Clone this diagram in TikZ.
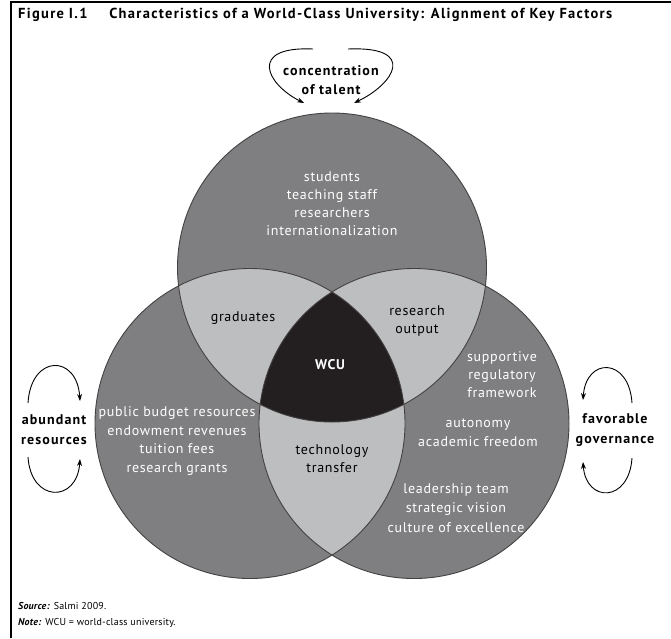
\documentclass[tikz,border=0pt]{standalone}
\usepackage{fontspec}
\setmainfont{PT Sans}
\newfontfamily\circfont[LetterSpace=5]{PT Sans}
\newfontfamily\lblfont[LetterSpace=8]{PT Sans}
\newfontfamily\titlefont[LetterSpace=9]{PT Sans}
\newfontfamily\notefont[LetterSpace=2]{PT Sans}
\usetikzlibrary{arrows.meta}
\definecolor{midgray}{HTML}{7F7F81}
\definecolor{lensgray}{HTML}{BDBEC0}
\definecolor{coreblack}{HTML}{231F20}
\tikzset{
  ctxt/.style={text=white, align=center, inner sep=0pt, font=\circfont\fontsize{14}{18}\selectfont},
  lenstxt/.style={text=black, align=center, inner sep=0pt, font=\circfont\fontsize{14}{18}\selectfont},
  lbl/.style={text=black, align=center, inner sep=0pt, font=\lblfont\fontsize{14}{18.5}\selectfont\bfseries},
  arr/.style={draw=black, line width=0.9pt, -{Stealth[length=7pt,width=5pt]}},
  outline/.style={draw=coreblack!85, line width=0.9pt},
  notetxt/.style={anchor=west, inner sep=0pt, font=\notefont\fontsize{10}{12}\selectfont},
}
\begin{document}
\begin{tikzpicture}[x=1pt,y=-1pt]
\useasboundingbox (0,0) rectangle (671,638);
\fill[white] (0,0) rectangle (671,638);
% frame
\draw[line width=2pt] (10,2) -- (671,2);
\draw[line width=1.5pt] (11,1) -- (11,638);
% title
\node[anchor=west, inner sep=0pt, font=\titlefont\fontsize{14.5}{16}\selectfont\bfseries] (title) at (18,15)
  {Figure I.1\hspace{1.5em}Characteristics of a World-Class University: Alignment of Key Factors};
% circles
\def\Ctop{(332,267.5) circle (154.5)}
\def\Cleft{(250,423.5) circle (155)}
\def\Cright{(414,423.5) circle (155)}
\fill[midgray] \Ctop;
\fill[midgray] \Cleft;
\fill[midgray] \Cright;
\begin{scope}\clip \Ctop; \fill[lensgray] \Cleft; \fill[lensgray] \Cright; \end{scope}
\begin{scope}\clip \Cleft; \fill[lensgray] \Cright; \end{scope}
\begin{scope}\clip \Ctop; \clip \Cleft; \fill[coreblack] \Cright; \end{scope}
\draw[outline] \Ctop;
\draw[outline] \Cleft;
\draw[outline] \Cright;
% circle texts
\node[ctxt] (talent) at (332,204) {students\\teaching staff\\researchers\\internationalization};
\node[ctxt, font=\circfont\fontsize{14}{18.7}\selectfont] (resources) at (177,441) {public budget resources\\endowment revenues\\tuition fees\\research grants};
\node[ctxt] (reg) at (502,375) {supportive\\regulatory\\framework};
\node[ctxt, font=\circfont\fontsize{14}{19}\selectfont] (auton) at (478,433) {autonomy\\academic freedom};
\node[ctxt, font=\circfont\fontsize{14}{19.5}\selectfont] (lead) at (456,508) {leadership team\\strategic vision\\culture of excellence};
\node[lenstxt] (grad) at (243,318) {graduates};
\node[lenstxt] (resout) at (417,321) {research\\output};
\node[lenstxt] (tech) at (332,459) {technology\\transfer};
\node[ctxt, font=\circfont\fontsize{14}{16}\selectfont\bfseries] (wcu) at (330,365) {WCU};
% outside labels
\node[lbl] (conc) at (331,80) {concentration\\of talent};
\node[lbl, font=\lblfont\fontsize{14}{20}\selectfont\bfseries] (abund) at (54,430) {abundant\\resources};
\node[lbl, font=\lblfont\fontsize{14}{20}\selectfont\bfseries] (gov) at (615,430) {favorable\\governance};
% arrows around labels
\coordinate (c1s) at (313,49); \coordinate (c1e) at (304,103);
\coordinate (c2s) at (348,49); \coordinate (c2e) at (354,103);
\draw[arr] (c1s) .. controls (248,46) and (266,84) .. (c1e);
\draw[arr] (c2s) .. controls (418,46) and (394,84) .. (c2e);
\coordinate (a1s) at (28,403); \coordinate (a1e) at (80,401);
\coordinate (a2s) at (28,457); \coordinate (a2e) at (80,459);
\draw[arr] (a1s) .. controls (31,354) and (77,354) .. (a1e);
\draw[arr] (a2s) .. controls (31,503) and (77,503) .. (a2e);
\coordinate (g1s) at (632,403); \coordinate (g1e) at (583,400);
\coordinate (g2s) at (632,458); \coordinate (g2e) at (583,462);
\draw[arr] (g1s) .. controls (629,357) and (586,357) .. (g1e);
\draw[arr] (g2s) .. controls (629,503) and (586,503) .. (g2e);
% notes
\node[notetxt] (src) at (18,606) {\textbf{\itshape Source:} Salmi 2009.};
\node[notetxt] (note) at (18,623) {\textbf{\itshape Note:} WCU = world-class university.};
\end{tikzpicture}
\end{document}
